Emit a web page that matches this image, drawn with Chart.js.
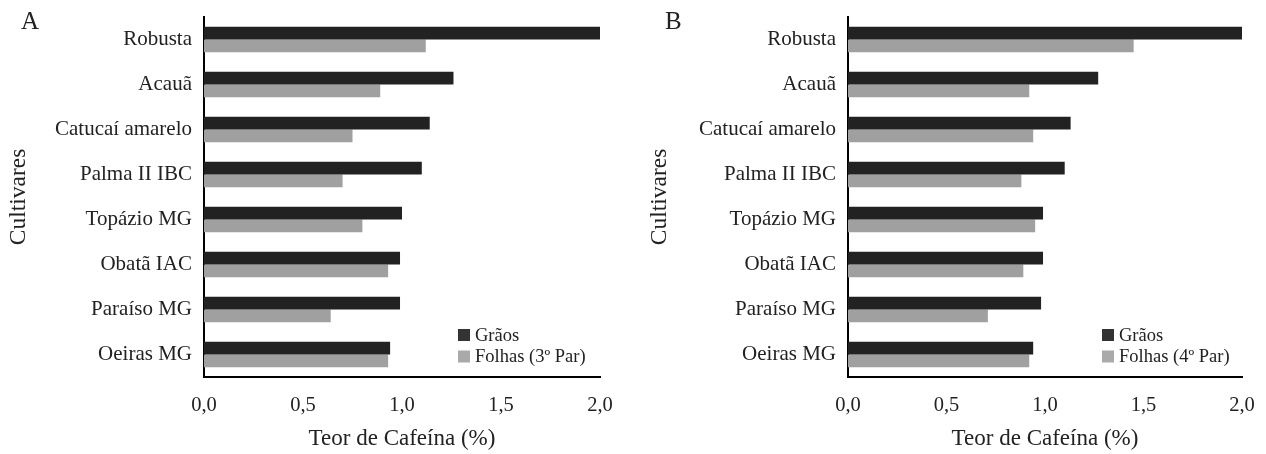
<!DOCTYPE html>
<html>
<head>
<meta charset="utf-8">
<script src="https://cdn.jsdelivr.net/npm/chart.js@4/dist/chart.umd.min.js"></script>
<style>
  html, body { margin: 0; padding: 0; background: #fff; }
  #wrap { position: relative; width: 1266px; height: 454px; overflow: hidden; }
  canvas { position: absolute; top: 0; }
  #cA { left: 0; }
  #cB { left: 633px; }
</style>
</head>
<body>
<div id="wrap">
  <canvas id="cA" width="633" height="454"></canvas>
  <canvas id="cB" width="633" height="454"></canvas>
</div>
<script>
// ---- Data ----
const categories = ['Robusta', 'Acauã', 'Catucaí amarelo', 'Palma II IBC', 'Topázio MG', 'Obatã IAC', 'Paraíso MG', 'Oeiras MG'];
const graosA   = [2.00, 1.26, 1.14, 1.10, 1.00, 0.99, 0.99, 0.94];
const folhas3A = [1.12, 0.89, 0.75, 0.70, 0.80, 0.93, 0.64, 0.93];
const graosB   = [2.00, 1.27, 1.13, 1.10, 0.99, 0.99, 0.98, 0.94];
const folhas4B = [1.45, 0.92, 0.94, 0.88, 0.95, 0.89, 0.71, 0.92];
const xTicks = [0, 0.5, 1.0, 1.5, 2.0];
const labelGraos = 'Grãos';
const labelFolhasA = 'Folhas (3º Par)';
const labelFolhasB = 'Folhas (4º Par)';
const panelA = 'A';
const panelB = 'B';
const yTitle = 'Cultivares';
const xTitle = 'Teor de Cafeína (%)';

const FONT = "'Liberation Serif', 'Times New Roman', serif";
const TXT = '#222222';
const DARK = '#222222';
const GRAY = '#a0a0a0';

const overlayPlugin = {
  id: 'overlay',
  afterDraw(chart, args, opts) {
    const ctx = chart.ctx;
    ctx.save();
    // panel letter
    ctx.fillStyle = TXT;
    ctx.font = '25px ' + FONT;
    ctx.textAlign = 'left';
    ctx.textBaseline = 'alphabetic';
    ctx.fillText(opts.panel, opts.panelX, opts.panelY);
    // legend
    ctx.font = '18.5px ' + FONT;
    ctx.textBaseline = 'middle';
    chart.data.datasets.forEach((ds, i) => {
      const cy = opts.legY + i * opts.legGap;
      ctx.fillStyle = i === 0 ? '#333333' : '#aaaaaa';
      ctx.fillRect(opts.legX, cy - 6, 12, 12);
      ctx.fillStyle = TXT;
      ctx.fillText(ds.label, opts.legX + 17, cy + 1);
    });
    ctx.restore();
  }
};

function makeChart(id, graos, folhas, folhasLabel, yWidth, padRight, titlePad, panel, panelX, legX) {
  return new Chart(document.getElementById(id), {
    type: 'bar',
    data: {
      labels: categories,
      datasets: [
        { label: labelGraos, data: graos, backgroundColor: DARK, categoryPercentage: 0.565, barPercentage: 1.0 },
        { label: folhasLabel, data: folhas, backgroundColor: GRAY, categoryPercentage: 0.565, barPercentage: 1.0 }
      ]
    },
    options: {
      indexAxis: 'y',
      responsive: false,
      devicePixelRatio: 1,
      animation: false,
      layout: { padding: { left: 0, right: padRight, top: 17, bottom: 0 } },
      plugins: {
        legend: { display: false },
        tooltip: { enabled: false },
        overlay: { panel: panel, panelX: panelX, panelY: 29, legX: legX, legY: 335, legGap: 21.5 }
      },
      scales: {
        x: {
          type: 'linear',
          min: 0, max: 2,
          afterBuildTicks: (s) => { s.ticks = xTicks.map(v => ({ value: v })); },
          grid: { display: false, drawTicks: false },
          border: { display: true, color: '#000000', width: 2 },
          ticks: {
            color: TXT,
            font: { family: FONT, size: 20.5 },
            padding: 16,
            maxRotation: 0,
            callback: (v) => Number(v).toFixed(1).replace('.', ',')
          },
          title: { display: true, text: xTitle, color: TXT, font: { family: FONT, size: 23 }, padding: { top: 0, bottom: 1 } },
          afterFit: (s) => { s.height = 77; s.paddingLeft = 0; s.paddingRight = 0; }
        },
        y: {
          grid: { display: false, drawTicks: false },
          border: { display: true, color: '#000000', width: 2 },
          ticks: { color: TXT, font: { family: FONT, size: 21 }, padding: 12 },
          title: { display: true, text: yTitle, color: TXT, font: { family: FONT, size: 23.5 }, padding: { top: titlePad, bottom: 0 } },
          afterFit: (s) => { s.width = yWidth; s.paddingTop = 0; s.paddingBottom = 0; }
        }
      }
    },
    plugins: [overlayPlugin]
  });
}

makeChart('cA', graosA, folhas3A, labelFolhasA, 204, 33, 5, panelA, 21, 458);
makeChart('cB', graosB, folhas4B, labelFolhasB, 215, 24, 13, panelB, 32, 469);
</script>
</body>
</html>
